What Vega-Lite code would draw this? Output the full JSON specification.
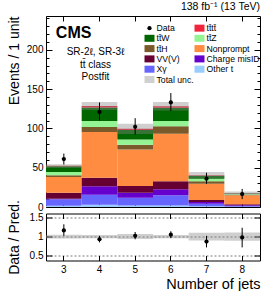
{
  "$schema": "https://vega.github.io/schema/vega-lite/v6.json",
  "padding": {"left": 6, "top": 1, "right": 5, "bottom": 0},
  "title": {"text": "138 fb\u207b\u00b9 (13 TeV)", "anchor": "end", "fontSize": 10.5, "fontWeight": "normal", "offset": 3, "frame": "group", "color": "black"},
  "datasets": {
    "stack": [
      {"njet": 3, "process": "Other t", "k": 1, "events": 1.5},
      {"njet": 3, "process": "X\u03b3", "k": 2, "events": 8.5},
      {"njet": 3, "process": "Charge misID", "k": 3, "events": 0.5},
      {"njet": 3, "process": "VV(V)", "k": 4, "events": 7.7},
      {"njet": 3, "process": "Nonprompt", "k": 5, "events": 20},
      {"njet": 3, "process": "tt\u0304H", "k": 6, "events": 2.2},
      {"njet": 3, "process": "tt\u0304Z", "k": 7, "events": 4.1},
      {"njet": 3, "process": "tt\u0304W", "k": 8, "events": 7.3},
      {"njet": 3, "process": "tt\u0304tt\u0304", "k": 9, "events": 0.6},
      {"njet": 4, "process": "Other t", "k": 1, "events": 3},
      {"njet": 4, "process": "X\u03b3", "k": 2, "events": 12.7},
      {"njet": 4, "process": "Charge misID", "k": 3, "events": 10.6},
      {"njet": 4, "process": "VV(V)", "k": 4, "events": 11},
      {"njet": 4, "process": "Nonprompt", "k": 5, "events": 58.1},
      {"njet": 4, "process": "tt\u0304H", "k": 6, "events": 6.4},
      {"njet": 4, "process": "tt\u0304Z", "k": 7, "events": 7.6},
      {"njet": 4, "process": "tt\u0304W", "k": 8, "events": 17.1},
      {"njet": 4, "process": "tt\u0304tt\u0304", "k": 9, "events": 2},
      {"njet": 5, "process": "Other t", "k": 1, "events": 2},
      {"njet": 5, "process": "X\u03b3", "k": 2, "events": 9.9},
      {"njet": 5, "process": "Charge misID", "k": 3, "events": 6.3},
      {"njet": 5, "process": "VV(V)", "k": 4, "events": 8.5},
      {"njet": 5, "process": "Nonprompt", "k": 5, "events": 46.3},
      {"njet": 5, "process": "tt\u0304H", "k": 6, "events": 6.3},
      {"njet": 5, "process": "tt\u0304Z", "k": 7, "events": 6.7},
      {"njet": 5, "process": "tt\u0304W", "k": 8, "events": 12},
      {"njet": 5, "process": "tt\u0304tt\u0304", "k": 9, "events": 1.5},
      {"njet": 6, "process": "Other t", "k": 1, "events": 2},
      {"njet": 6, "process": "X\u03b3", "k": 2, "events": 12.8},
      {"njet": 6, "process": "Charge misID", "k": 3, "events": 7.7},
      {"njet": 6, "process": "VV(V)", "k": 4, "events": 10.2},
      {"njet": 6, "process": "Nonprompt", "k": 5, "events": 60.6},
      {"njet": 6, "process": "tt\u0304H", "k": 6, "events": 9.3},
      {"njet": 6, "process": "tt\u0304Z", "k": 7, "events": 6.8},
      {"njet": 6, "process": "tt\u0304W", "k": 8, "events": 17},
      {"njet": 6, "process": "tt\u0304tt\u0304", "k": 9, "events": 1.8},
      {"njet": 7, "process": "Other t", "k": 1, "events": 1},
      {"njet": 7, "process": "X\u03b3", "k": 2, "events": 3},
      {"njet": 7, "process": "Charge misID", "k": 3, "events": 2.5},
      {"njet": 7, "process": "VV(V)", "k": 4, "events": 2.5},
      {"njet": 7, "process": "Nonprompt", "k": 5, "events": 20.7},
      {"njet": 7, "process": "tt\u0304H", "k": 6, "events": 3},
      {"njet": 7, "process": "tt\u0304Z", "k": 7, "events": 3.3},
      {"njet": 7, "process": "tt\u0304W", "k": 8, "events": 3.8},
      {"njet": 7, "process": "tt\u0304tt\u0304", "k": 9, "events": 0.7},
      {"njet": 8, "process": "Other t", "k": 1, "events": 0.3},
      {"njet": 8, "process": "X\u03b3", "k": 2, "events": 1},
      {"njet": 8, "process": "Charge misID", "k": 3, "events": 1},
      {"njet": 8, "process": "VV(V)", "k": 4, "events": 1.2},
      {"njet": 8, "process": "Nonprompt", "k": 5, "events": 11.3},
      {"njet": 8, "process": "tt\u0304H", "k": 6, "events": 0.9},
      {"njet": 8, "process": "tt\u0304Z", "k": 7, "events": 0.8},
      {"njet": 8, "process": "tt\u0304W", "k": 8, "events": 0.7},
      {"njet": 8, "process": "tt\u0304tt\u0304", "k": 9, "events": 0.3}
    ],
    "summary": [
      {"njet": 3, "data": 61, "dlo": 54, "dhi": 68, "ulo": 49.5, "uhi": 54.5, "ratio": 1.16, "rlo": 1.02, "rhi": 1.32, "blo": 0.95, "bhi": 1.05},
      {"njet": 4, "data": 121, "dlo": 110, "dhi": 133, "ulo": 123.3, "uhi": 133.7, "ratio": 0.93, "rlo": 0.85, "rhi": 1.02, "blo": 0.96, "bhi": 1.04},
      {"njet": 5, "data": 102, "dlo": 92, "dhi": 113, "ulo": 93, "uhi": 106, "ratio": 1.02, "rlo": 0.93, "rhi": 1.12, "blo": 0.935, "bhi": 1.065},
      {"njet": 6, "data": 133, "dlo": 122, "dhi": 145, "ulo": 122.7, "uhi": 133.7, "ratio": 1.05, "rlo": 0.96, "rhi": 1.14, "blo": 0.955, "bhi": 1.045},
      {"njet": 7, "data": 36, "dlo": 29.5, "dhi": 43.5, "ulo": 36.5, "uhi": 44.5, "ratio": 0.87, "rlo": 0.72, "rhi": 1.02, "blo": 0.9, "bhi": 1.1},
      {"njet": 8, "data": 16.5, "dlo": 10, "dhi": 23, "ulo": 15.3, "uhi": 19.7, "ratio": 0.98, "rlo": 0.72, "rhi": 1.23, "blo": 0.89, "bhi": 1.11}
    ]
  },
  "bounds": "flush",
  "spacing": 6.5,
  "vconcat": [
    {
      "width": 214,
      "height": 191,
      "layer": [
        {
          "data": {"name": "stack"},
          "mark": {"type": "bar"},
          "encoding": {
            "x": {"field": "njet", "type": "ordinal", "scale": {"paddingInner": 0, "paddingOuter": 0},
                  "axis": {"orient": "bottom", "labels": false, "title": null, "tickSize": -5}},
            "y": {"field": "events", "type": "quantitative", "stack": "zero", "scale": {"domain": [0, 243], "nice": false},
                  "axis": {"orient": "left", "values": [0, 50, 100, 150, 200], "tickSize": -6, "labelPadding": 9, "title": "Events / 1 unit", "titleAnchor": "end", "titlePadding": 5}},
            "color": {"field": "process", "type": "nominal",
              "scale": {
                "domain": ["Data", "tt\u0304W", "tt\u0304H", "VV(V)", "X\u03b3", "Total unc.", "tt\u0304tt\u0304", "tt\u0304Z", "Nonprompt", "Charge misID", "Other t"],
                "range": ["#000000", "#006600", "#7a5a2a", "#660033", "#6666ff", "#d0d0d0", "#f0243c", "#94f494", "#ff8c40", "#6600cc", "#99ccff"]
              },
              "legend": {
                "orient": "none", "legendX": 98.5, "legendY": 7, "columns": 2, "title": null,
                "labelFontSize": 8.7, "labelOffset": 2, "rowPadding": 0.3, "columnPadding": -3,
                "symbolSize": 100, "labelColor": "black",
                "encode": {"symbols": {"update": {
                  "shape": {"signal": "datum.value === 'Data' ? 'circle' : 'M-1,-0.7H1V0.7H-1Z'"},
                  "size": {"signal": "datum.value === 'Data' ? 18 : 100"},
                  "strokeWidth": {"value": 0}
                }}}
              }
            },
            "order": {"field": "k", "type": "quantitative"}
          }
        },
        {
          "data": {"name": "summary"},
          "mark": {"type": "rect", "color": "#888888", "opacity": 0.4},
          "encoding": {
            "x": {"field": "njet", "type": "ordinal", "axis": {"orient": "top", "labels": false, "title": null, "tickSize": -5}},
            "y": {"field": "ulo", "type": "quantitative",
                  "axis": {"orient": "left", "values": [10, 20, 30, 40, 60, 70, 80, 90, 110, 120, 130, 140, 160, 170, 180, 190, 210, 220, 230, 240], "labels": false, "tickSize": -3, "title": null}},
            "y2": {"field": "uhi"}
          }
        },
        {
          "data": {"name": "summary"},
          "mark": {"type": "rule", "color": "black", "strokeWidth": 1},
          "encoding": {
            "x": {"field": "njet", "type": "ordinal", "axis": null},
            "y": {"field": "dlo", "type": "quantitative",
                  "axis": {"orient": "right", "values": [0, 50, 100, 150, 200], "labels": false, "tickSize": -6, "title": null}},
            "y2": {"field": "dhi"}
          }
        },
        {
          "data": {"name": "summary"},
          "mark": {"type": "point", "filled": true, "size": 18, "color": "black", "opacity": 1},
          "encoding": {
            "x": {"field": "njet", "type": "ordinal", "axis": null},
            "y": {"field": "data", "type": "quantitative",
                  "axis": {"orient": "right", "values": [10, 20, 30, 40, 60, 70, 80, 90, 110, 120, 130, 140, 160, 170, 180, 190, 210, 220, 230, 240], "labels": false, "tickSize": -3, "title": null}}
          }
        },
        {
          "data": {"values": [{}]},
          "mark": {"type": "text", "text": "CMS", "fontSize": 16, "fontWeight": "bold", "align": "left", "baseline": "alphabetic", "dx": -8, "color": "black"},
          "encoding": {
            "x": {"datum": 3, "type": "ordinal", "axis": null},
            "y": {"datum": 215, "type": "quantitative", "axis": null}
          }
        },
        {
          "data": {"values": [{}]},
          "mark": {"type": "text", "text": ["SR-2\u2113, SR-3\u2113", "tt\u0304 class", "Postfit"], "fontSize": 10, "lineHeight": 12.3, "align": "center", "baseline": "alphabetic", "dx": -4, "color": "black"},
          "encoding": {
            "x": {"datum": 4, "type": "ordinal", "axis": null},
            "y": {"datum": 193, "type": "quantitative", "axis": null}
          }
        }
      ],
      "resolve": {"axis": {"x": "independent", "y": "independent"}}
    },
    {
      "width": 214,
      "height": 47,
      "layer": [
        {
          "data": {"name": "summary"},
          "mark": {"type": "rect", "color": "#888888", "opacity": 0.4},
          "encoding": {
            "x": {"field": "njet", "type": "ordinal", "scale": {"paddingInner": 0, "paddingOuter": 0},
                  "axis": {"orient": "bottom", "title": "Number of jets", "titleAnchor": "end", "labelAngle": 0, "tickSize": -5, "labelPadding": 8.5, "titlePadding": 3, "titleFontSize": 14.5}},
            "y": {"field": "blo", "type": "quantitative", "scale": {"domain": [0.38, 1.6], "nice": false, "zero": false},
                  "axis": {"orient": "left", "values": [0.5, 1, 1.5], "format": "~g", "tickSize": -6, "labelPadding": 9, "title": "Data / Pred.", "titlePadding": 8,
                           "grid": true, "gridDash": [2, 2], "gridColor": "#555555", "gridWidth": 0.8}},
            "y2": {"field": "bhi"}
          }
        },
        {
          "data": {"name": "summary"},
          "mark": {"type": "rule", "color": "black", "strokeWidth": 1},
          "encoding": {
            "x": {"field": "njet", "type": "ordinal", "axis": {"orient": "top", "labels": false, "title": null, "tickSize": -5}},
            "y": {"field": "rlo", "type": "quantitative",
                  "axis": {"orient": "right", "values": [0.5, 1, 1.5], "labels": false, "tickSize": -6, "title": null}},
            "y2": {"field": "rhi"}
          }
        },
        {
          "data": {"name": "summary"},
          "mark": {"type": "point", "filled": true, "size": 18, "color": "black", "opacity": 1},
          "encoding": {
            "x": {"field": "njet", "type": "ordinal", "axis": null},
            "y": {"field": "ratio", "type": "quantitative", "axis": null}
          }
        }
      ],
      "resolve": {"axis": {"x": "independent", "y": "independent"}}
    }
  ],
  "config": {
    "font": "Liberation Sans",
    "view": {"stroke": "black", "strokeWidth": 1},
    "axis": {"domain": false, "grid": false, "labelColor": "black", "titleColor": "black", "tickColor": "black",
             "labelFontSize": 10, "titleFontSize": 14, "titleFontWeight": "normal"}
  }
}
